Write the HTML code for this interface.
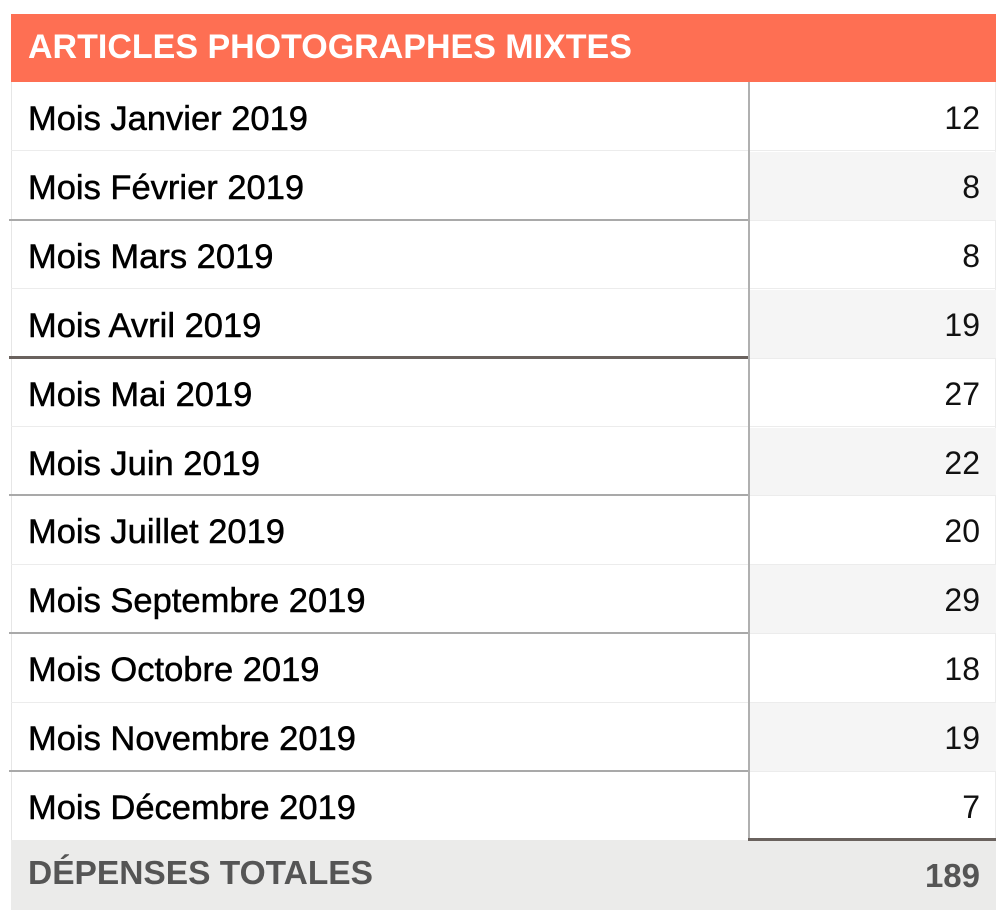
<!DOCTYPE html>
<html><head><meta charset="utf-8"><style>
body{margin:0;width:1005px;height:924px;background:#fff;position:relative;overflow:hidden;font-family:"Liberation Sans",sans-serif;}
.a{position:absolute;}
.hdr{left:11px;top:14px;width:985px;height:68px;background:#fe6f53;}
.hdr span{position:absolute;left:17px;top:14px;color:#fff;font-weight:bold;font-size:34px;}
.lbl{position:absolute;left:28px;font-size:34.5px;color:#000;-webkit-text-stroke:0.5px #000;}
.num{position:absolute;right:25px;font-size:32px;color:#111;text-align:right;}
.sh{position:absolute;left:750px;width:246px;background:#f5f5f5;}
</style></head><body>
<div class="a hdr"><span>ARTICLES PHOTOGRAPHES MIXTES</span></div>
<div class="a" style="left:11px;top:82px;width:1px;height:758px;background:#e6e6e6"></div>
<div class="a" style="left:995px;top:82px;width:1px;height:758px;background:#ececec"></div>
<div id="rows"></div>
<script>
var labels=["Mois Janvier 2019","Mois Février 2019","Mois Mars 2019","Mois Avril 2019","Mois Mai 2019","Mois Juin 2019","Mois Juillet 2019","Mois Septembre 2019","Mois Octobre 2019","Mois Novembre 2019","Mois Décembre 2019"];
var nums=[12,8,8,19,27,22,20,29,18,19,7];
var h="";var rh=68.9;
for(var i=0;i<11;i++){var t=82+i*rh;
if(i%2==1)h+='<div class="sh" style="top:'+(t+1)+'px;height:'+(rh-1)+'px"></div>';
if(i>0){var c='#ececec',th=1,l=11,w=985;
if(i%2==0){c='#a9a9a9';th=2;l=9;w=741;}
if(i==4){c='#6a625e';th=3;}
if(i%2==0)h+='<div class="a" style="left:750px;width:246px;top:'+t+'px;height:1px;background:#ececec"></div>';
h+='<div class="a" style="left:'+l+'px;width:'+w+'px;top:'+(t-th/2)+'px;height:'+th+'px;background:'+c+'"></div>';}
h+='<div class="lbl" style="top:'+(t+18)+'px">'+labels[i]+'</div>';
h+='<div class="num" style="top:'+(t+18)+'px">'+nums[i]+'</div>';}
document.getElementById('rows').innerHTML=h;
</script>
<div class="a" style="left:748px;top:82px;width:2px;height:758px;background:#b0b0b0"></div>
<div class="a" style="left:11px;top:840px;width:985px;height:70px;background:#ebebea"></div>
<div class="a" style="left:748px;top:838px;width:248px;height:3px;background:#6a625e"></div>
<div class="a" style="left:28px;top:855px;font-size:33.5px;font-weight:bold;color:#555">DÉPENSES TOTALES</div>
<div class="a" style="right:25px;top:857px;font-size:33px;font-weight:bold;color:#555">189</div>
</body></html>
